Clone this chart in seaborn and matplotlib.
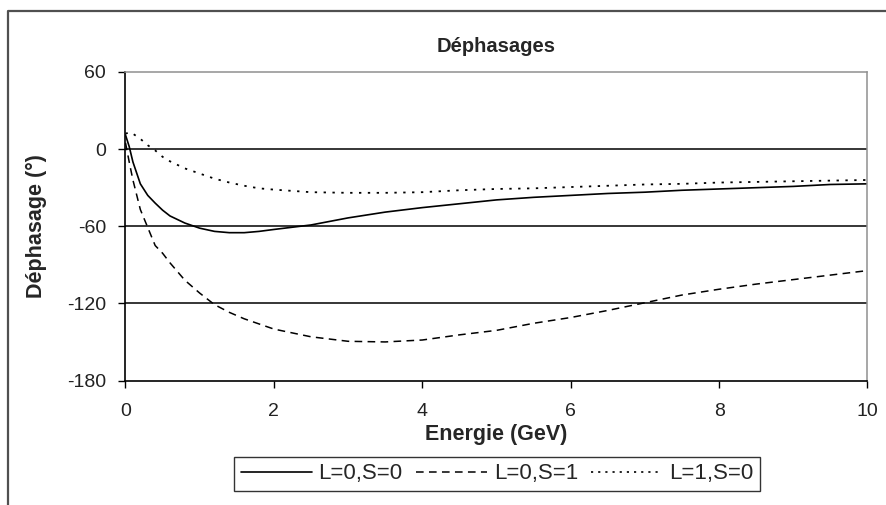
import matplotlib
matplotlib.use("Agg")
import matplotlib.pyplot as plt
from matplotlib.lines import Line2D
import seaborn as sns
import pandas as pd

energy = [0, 0.05, 0.1, 0.2, 0.3, 0.4, 0.5, 0.6, 0.8, 1.0, 1.2, 1.4, 1.6, 1.8, 2.0,
          2.5, 3.0, 3.5, 4.0, 4.5, 5.0, 5.5, 6.0, 6.5, 7.0, 7.5, 8.0, 8.5, 9.0, 9.5, 10]
l0s0 = [11, 2, -10, -27, -36, -42, -47.5, -52, -57.5, -61.5, -64, -65, -65, -64, -62.5,
        -59, -53.5, -49, -45.5, -42.5, -39.5, -37.5, -36, -34.5, -33.5, -32, -31, -30, -29, -27.5, -27]
l0s1 = [5, -10, -24, -47, -61, -75, -81, -88.5, -102, -112, -121, -127, -132, -136, -140,
        -146, -149.5, -150, -148.5, -144.5, -141, -135.5, -131, -125.5, -119.5, -113.5, -109, -105, -101.5, -98, -94.5]
l1s0 = [12, 13, 12, 8, 3, -1, -6, -9.5, -15, -19, -23, -26, -28.5, -30.5, -31.5,
        -33.5, -34, -34, -33.5, -32, -31, -30.5, -29.5, -28.5, -27.5, -27, -26, -25.5, -25, -24.5, -24]
series_names = ["L=0,S=0", "L=0,S=1", "L=1,S=0"]
title = "Déphasages"
xlabel = "Energie (GeV)"
ylabel = "Déphasage (°)"
xticks = [0, 2, 4, 6, 8, 10]
yticks = [-180, -120, -60, 0, 60]

sns.set_style("white")
plt.rcParams['font.family'] = ['Liberation Sans', 'DejaVu Sans']
plt.rcParams['axes.unicode_minus'] = False

df = pd.concat([
    pd.DataFrame({"E": energy, "V": vals, "serie": name})
    for name, vals in zip(series_names, [l0s0, l0s1, l1s0])
])

fig = plt.figure(figsize=(8.87, 5.05), dpi=100)
ax = fig.add_axes([125.5 / 887, 1 - 380.5 / 505, (867.5 - 125.5) / 887, (380.5 - 72) / 505])

dash_ls = (0, (5, 3.5))
dot_ls = (0, (1.3, 3.6))
styles = {"L=0,S=0": ("-", 1.2), "L=0,S=1": (dash_ls, 1.1), "L=1,S=0": (dot_ls, 1.3)}
for name in series_names:
    ls, lw = styles[name]
    sub = df[df["serie"] == name]
    sns.lineplot(data=sub, x="E", y="V", ax=ax, color="black", lw=lw,
                 linestyle=ls, label=name, legend=False)

ax.set_xlim(0, 10)
ax.set_ylim(-180, 60)
ax.set_xticks(xticks)
ax.set_yticks(yticks)
for yv in [0, -60, -120]:
    ax.axhline(yv, color="black", lw=1.1, zorder=1)

for s in ["left", "bottom"]:
    ax.spines[s].set_color("black")
    ax.spines[s].set_linewidth(1.2)
for s in ["top", "right"]:
    ax.spines[s].set_color("#909090")
    ax.spines[s].set_linewidth(1.1)

ax.tick_params(axis="both", direction="out", length=5, width=1, color="black",
               labelsize=14, labelcolor="#222222", left=True, bottom=True)
ax.tick_params(axis="x", pad=11)
ax.tick_params(axis="y", pad=9)
ax.set_xlabel(xlabel, fontsize=15.5, fontweight="bold", labelpad=3)
ax.set_ylabel(ylabel, fontsize=15.5, fontweight="bold", labelpad=14)
fig.text(496 / 887, 1 - 47 / 505, title, ha="center", va="center", fontsize=14.5, fontweight="bold")

handles = [
    Line2D([], [], color="black", lw=1.2, linestyle="-"),
    Line2D([], [], color="black", lw=1.1, linestyle=(0, (5, 3.5))),
    Line2D([], [], color="black", lw=1.2, linestyle=(0, (1.3, 3))),
]
leg = fig.legend(handles, series_names, ncol=3, loc="center",
                 bbox_to_anchor=(497 / 887, 1 - 474 / 505), fontsize=16,
                 frameon=True, fancybox=False, shadow=False, handlelength=3.2,
                 handletextpad=0.3, columnspacing=0.6, borderpad=0.3)
leg.get_frame().set_edgecolor("black")
leg.get_frame().set_linewidth(1.0)

# outer chart frame (left and top edges visible)
fig.add_artist(Line2D([8.5 / 887, 8.5 / 887, 1.0], [0.0, 1 - 10.5 / 505, 1 - 10.5 / 505],
                      transform=fig.transFigure, color="#505050", lw=1.6))

fig.savefig("out.png", dpi=100)
